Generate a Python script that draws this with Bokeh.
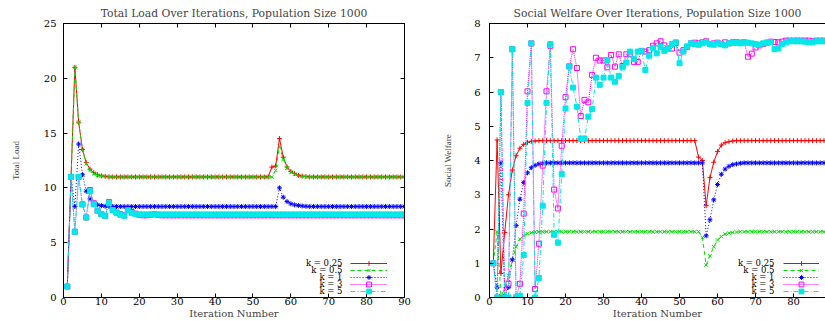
from bokeh.plotting import figure
from bokeh.models import Legend, LegendItem, Label, LinearAxis, FixedTicker, Range1d
from bokeh.layouts import row
from bokeh.embed import file_html
from bokeh.resources import INLINE

iterations = list(range(1, 91))
series_names = ["k = 0.25", "k = 0.5", "k = 1", "k = 3", "k = 5"]

load_x_ticks = [0, 10, 20, 30, 40, 50, 60, 70, 80, 90]
load_y_ticks = [0, 5, 10, 15, 20, 25]
sw_x_ticks = [0, 10, 20, 30, 40, 50, 60, 70, 80]
sw_y_ticks = [0, 1, 2, 3, 4, 5, 6, 7, 8]

load_k025 = [
    1.0, 11.0, 21.0, 16.0, 13.5, 12.3, 11.7, 11.4, 11.2, 11.1,
    11.05, 11.0, 11.0, 11.0, 11.0, 11.0, 11.0, 11.0, 11.0, 11.0,
    11.0, 11.0, 11.0, 11.0, 11.0, 11.0, 11.0, 11.0, 11.0, 11.0,
    11.0, 11.0, 11.0, 11.0, 11.0, 11.0, 11.0, 11.0, 11.0, 11.0,
    11.0, 11.0, 11.0, 11.0, 11.0, 11.0, 11.0, 11.0, 11.0, 11.0,
    11.0, 11.0, 11.0, 11.0, 11.9, 12.0, 14.5, 12.8, 11.9, 11.5,
    11.3, 11.15, 11.08, 11.04, 11.0, 11.0, 11.0, 11.0, 11.0, 11.0,
    11.0, 11.0, 11.0, 11.0, 11.0, 11.0, 11.0, 11.0, 11.0, 11.0,
    11.0, 11.0, 11.0, 11.0, 11.0, 11.0, 11.0, 11.0, 11.0, 11.0,
]
load_k05 = [
    1.0, 11.0, 21.0, 16.0, 13.5, 12.2, 11.65, 11.3, 11.15, 11.08,
    11.04, 11.02, 11.0, 11.0, 11.0, 11.0, 11.0, 11.0, 11.0, 11.0,
    11.0, 11.0, 11.0, 11.0, 11.0, 11.0, 11.0, 11.0, 11.0, 11.0,
    11.0, 11.0, 11.0, 11.0, 11.0, 11.0, 11.0, 11.0, 11.0, 11.0,
    11.0, 11.0, 11.0, 11.0, 11.0, 11.0, 11.0, 11.0, 11.0, 11.0,
    11.0, 11.0, 11.0, 11.0, 11.0, 11.6, 13.8, 12.6, 11.8, 11.45,
    11.25, 11.12, 11.06, 11.02, 11.0, 11.0, 11.0, 11.0, 11.0, 11.0,
    11.0, 11.0, 11.0, 11.0, 11.0, 11.0, 11.0, 11.0, 11.0, 11.0,
    11.0, 11.0, 11.0, 11.0, 11.0, 11.0, 11.0, 11.0, 11.0, 11.0,
]
load_k1 = [
    1.0, 11.0, 8.3, 14.0, 11.2, 9.7, 9.0, 8.6, 8.45, 8.38,
    8.33, 8.31, 8.3, 8.3, 8.3, 8.3, 8.3, 8.3, 8.3, 8.3,
    8.3, 8.3, 8.3, 8.3, 8.3, 8.3, 8.3, 8.3, 8.3, 8.3,
    8.3, 8.3, 8.3, 8.3, 8.3, 8.3, 8.3, 8.3, 8.3, 8.3,
    8.3, 8.3, 8.3, 8.3, 8.3, 8.3, 8.3, 8.3, 8.3, 8.3,
    8.3, 8.3, 8.3, 8.3, 8.3, 8.3, 10.0, 9.15, 8.75, 8.55,
    8.45, 8.4, 8.35, 8.32, 8.3, 8.3, 8.3, 8.3, 8.3, 8.3,
    8.3, 8.3, 8.3, 8.3, 8.3, 8.3, 8.3, 8.3, 8.3, 8.3,
    8.3, 8.3, 8.3, 8.3, 8.3, 8.3, 8.3, 8.3, 8.3, 8.3,
]
load_k3 = [
    1.0, 11.0, 6.0, 11.0, 8.5, 7.3, 9.8, 8.6, 7.9, 7.6,
    7.45, 8.7, 8.0, 7.75, 7.6, 7.5, 8.0, 7.8, 7.65, 7.55,
    7.5, 7.5, 7.55, 7.6, 7.55, 7.5, 7.5, 7.5, 7.5, 7.5,
    7.5, 7.5, 7.5, 7.5, 7.5, 7.5, 7.5, 7.5, 7.5, 7.5,
    7.5, 7.5, 7.5, 7.5, 7.5, 7.5, 7.5, 7.5, 7.5, 7.5,
    7.5, 7.5, 7.5, 7.5, 7.5, 7.5, 7.5, 7.5, 7.5, 7.5,
    7.5, 7.5, 7.5, 7.5, 7.5, 7.5, 7.5, 7.5, 7.5, 7.5,
    7.5, 7.5, 7.5, 7.5, 7.5, 7.5, 7.5, 7.5, 7.5, 7.5,
    7.5, 7.5, 7.5, 7.5, 7.5, 7.5, 7.5, 7.5, 7.5, 7.5,
]
load_k5 = [
    1.0, 11.0, 6.0, 11.0, 8.5, 7.3, 9.7, 8.5, 7.9, 7.6,
    7.45, 8.6, 7.97, 7.7, 7.55, 7.45, 7.95, 7.7, 7.62, 7.58,
    7.58, 7.58, 7.58, 7.58, 7.58, 7.58, 7.58, 7.58, 7.58, 7.58,
    7.58, 7.58, 7.58, 7.58, 7.58, 7.58, 7.58, 7.58, 7.58, 7.58,
    7.58, 7.58, 7.58, 7.58, 7.58, 7.58, 7.58, 7.58, 7.58, 7.58,
    7.58, 7.58, 7.58, 7.58, 7.58, 7.58, 7.58, 7.58, 7.58, 7.58,
    7.58, 7.58, 7.58, 7.58, 7.58, 7.58, 7.58, 7.58, 7.58, 7.58,
    7.58, 7.58, 7.58, 7.58, 7.58, 7.58, 7.58, 7.58, 7.58, 7.58,
    7.58, 7.58, 7.58, 7.58, 7.58, 7.58, 7.58, 7.58, 7.58, 7.58,
]

sw_k025 = [
    1.0, 4.6, 0.7, 1.9, 3.0, 3.72, 4.14, 4.36, 4.47, 4.53,
    4.56, 4.57, 4.58, 4.58, 4.58, 4.58, 4.58, 4.58, 4.58, 4.58,
    4.58, 4.58, 4.58, 4.58, 4.58, 4.58, 4.58, 4.58, 4.58, 4.58,
    4.58, 4.58, 4.58, 4.58, 4.58, 4.58, 4.58, 4.58, 4.58, 4.58,
    4.58, 4.58, 4.58, 4.58, 4.58, 4.58, 4.58, 4.58, 4.58, 4.58,
    4.58, 4.58, 4.58, 4.58, 4.1, 4.0, 2.68, 3.5, 3.95, 4.26,
    4.45, 4.52, 4.55, 4.57, 4.58, 4.58, 4.58, 4.58, 4.58, 4.58,
    4.58, 4.58, 4.58, 4.58, 4.58, 4.58, 4.58, 4.58, 4.58, 4.58,
    4.58, 4.58, 4.58, 4.58, 4.58, 4.58, 4.58, 4.58, 4.58, 4.58,
]
sw_k05 = [
    1.0, 1.92, 0.05, 0.25, 0.65, 1.1, 1.48, 1.7, 1.8, 1.86,
    1.89, 1.91, 1.92, 1.92, 1.92, 1.92, 1.92, 1.92, 1.92, 1.92,
    1.92, 1.92, 1.92, 1.92, 1.92, 1.92, 1.92, 1.92, 1.92, 1.92,
    1.92, 1.92, 1.92, 1.92, 1.92, 1.92, 1.92, 1.92, 1.92, 1.92,
    1.92, 1.92, 1.92, 1.92, 1.92, 1.92, 1.92, 1.92, 1.92, 1.92,
    1.92, 1.92, 1.92, 1.92, 1.92, 1.75, 0.95, 1.22, 1.48, 1.68,
    1.78, 1.85, 1.88, 1.9, 1.91, 1.92, 1.92, 1.92, 1.92, 1.92,
    1.92, 1.92, 1.92, 1.92, 1.92, 1.92, 1.92, 1.92, 1.92, 1.92,
    1.92, 1.92, 1.92, 1.92, 1.92, 1.92, 1.92, 1.92, 1.92, 1.92,
]
sw_k1 = [
    1.0, 0.3, 3.93, 0.05, 0.3, 1.1, 2.1, 2.87, 3.36, 3.64,
    3.79, 3.86, 3.9, 3.92, 3.93, 3.93, 3.93, 3.93, 3.93, 3.93,
    3.93, 3.93, 3.93, 3.93, 3.93, 3.93, 3.93, 3.93, 3.93, 3.93,
    3.93, 3.93, 3.93, 3.93, 3.93, 3.93, 3.93, 3.93, 3.93, 3.93,
    3.93, 3.93, 3.93, 3.93, 3.93, 3.93, 3.93, 3.93, 3.93, 3.93,
    3.93, 3.93, 3.93, 3.93, 3.93, 3.93, 1.8, 2.27, 2.85, 3.3,
    3.6, 3.75, 3.83, 3.88, 3.9, 3.92, 3.93, 3.93, 3.93, 3.93,
    3.93, 3.93, 3.93, 3.93, 3.93, 3.93, 3.93, 3.93, 3.93, 3.93,
    3.93, 3.93, 3.93, 3.93, 3.93, 3.93, 3.93, 3.93, 3.93, 3.93,
]
sw_k3 = [
    1.0, 0.0, 6.0, 0.0, 0.4, 7.25, 0.0, 0.4, 2.45, 6.02,
    7.42, 0.25, 1.57, 3.85, 6.02, 7.35, 3.15, 2.6, 4.43, 5.85,
    6.75, 7.25, 6.7, 5.3, 5.77, 5.7, 6.5, 7.0, 6.92, 6.92,
    6.72, 7.08, 6.74, 7.1, 6.76, 7.1, 7.1, 6.88, 6.88, 7.2,
    7.18, 7.22, 7.35, 7.42, 7.48, 7.36, 7.27, 7.27, 7.43, 7.15,
    7.22, 7.32, 7.42, 7.44, 7.42, 7.45, 7.48, 7.4, 7.42, 7.44,
    7.4, 7.45, 7.42, 7.45, 7.45, 7.44, 7.45, 7.03, 7.12, 7.3,
    7.36, 7.4, 7.44, 7.47, 7.46, 7.45, 7.47, 7.5, 7.5, 7.5,
    7.5, 7.5, 7.5, 7.5, 7.48, 7.5, 7.5, 7.5, 7.5, 7.5,
]
sw_k5 = [
    1.0, 0.0, 6.0, 0.0, 0.0, 7.25, 0.0, 0.05, 1.24, 5.68,
    7.42, 0.0, 0.57, 2.68, 5.68, 7.4, 1.83, 1.6, 3.6, 5.52,
    6.75, 6.13, 5.57, 4.64, 4.64, 5.28, 5.5, 6.42, 6.21, 6.42,
    6.93, 6.42, 6.3, 6.47, 6.72, 6.86, 7.18, 6.96, 7.18, 7.2,
    6.64, 7.06, 7.28, 7.13, 7.32, 7.2, 7.28, 7.4, 7.45, 6.84,
    7.18, 7.33, 7.42, 7.4, 7.38, 7.42, 7.45, 7.4, 7.38, 7.42,
    7.4, 7.36, 7.42, 7.44, 7.44, 7.42, 7.45, 7.44, 7.42, 7.4,
    7.38, 7.42, 7.44, 7.46, 7.25, 7.27, 7.4, 7.45, 7.48, 7.48,
    7.48, 7.48, 7.47, 7.45, 7.45, 7.48, 7.48, 7.48, 7.48, 7.48,
]

STYLES = [
    dict(color="#ff0000", dash="solid", marker="cross", fill=True),
    dict(color="#00e000", dash="4 3", marker="x", fill=True),
    dict(color="#0000ff", dash="1 2", marker="asterisk", fill=True),
    dict(color="#ff00ff", dash="1 1", marker="square", fill=False),
    dict(color="#00e8e8", dash="5 2 1 2", marker="square", fill=True),
]

SERIF = "DejaVu Serif"
HEIGHT = 321


def style_axis(ax, ticks, show_labels=True):
    ax.ticker = FixedTicker(ticks=ticks)
    ax.axis_line_color = "black"
    ax.major_tick_line_color = "black"
    ax.major_tick_in = 4
    ax.major_tick_out = 0
    ax.minor_tick_in = 0
    ax.minor_tick_out = 0
    ax.major_label_text_font = SERIF
    if show_labels:
        ax.major_label_text_color = "black"
        ax.major_label_text_font_size = "10px"
    else:
        # mirror axis: tick marks only, no tick labels drawn
        ax.major_label_text_color = None
        ax.major_label_text_alpha = 0
        ax.major_label_text_font_size = "0px"
        ax.major_label_standoff = 0


def make_fig(title, ylabel, series, xend, yend, xticks, yticks, width,
             left_border, right_border, mirror_right, ylab_standoff,
             ytick_standoff, text_right, glyph_left, glyph_w):
    p = figure(width=width, height=HEIGHT, output_backend="svg",
               toolbar_location=None,
               x_range=Range1d(0, xend), y_range=Range1d(0, yend),
               min_border_left=left_border, min_border_right=right_border,
               min_border_top=23, min_border_bottom=0)
    p.title.text = title
    p.title.text_font = SERIF
    p.title.text_font_style = "normal"
    p.title.text_font_size = "10.8px"
    p.title.align = "center"
    p.title.standoff = 8
    p.xgrid.visible = False
    p.ygrid.visible = False
    p.background_fill_color = "white"
    p.border_fill_color = "white"
    p.outline_line_color = "black" if mirror_right else None

    style_axis(p.xaxis[0], xticks)
    style_axis(p.yaxis[0], yticks)
    p.xaxis.major_label_standoff = 0
    p.yaxis.major_label_standoff = ytick_standoff
    p.xaxis.axis_label = "Iteration Number"
    p.xaxis.axis_label_standoff = 0
    p.xaxis.axis_label_text_font = SERIF
    p.xaxis.axis_label_text_font_style = "normal"
    p.xaxis.axis_label_text_font_size = "10px"
    p.yaxis.axis_label = ylabel
    p.yaxis.axis_label_standoff = ylab_standoff
    p.yaxis.axis_label_text_font = "Liberation Serif"
    p.yaxis.axis_label_text_font_style = "normal"
    p.yaxis.axis_label_text_font_size = "9px"

    top = LinearAxis()
    style_axis(top, xticks, show_labels=False)
    p.add_layout(top, "above")
    if mirror_right:
        right = LinearAxis()
        style_axis(right, yticks, show_labels=False)
        p.add_layout(right, "right")

    row_y = [34.5, 27.4, 20.3, 13.2, 6.1]
    for name, ys, st, ry in zip(series_names, series, STYLES, row_y):
        lr = p.line(iterations, ys, line_color=st["color"], line_width=1,
                    line_dash=st["dash"])
        sr = p.scatter(iterations, ys, marker=st["marker"], size=5,
                       line_color=st["color"],
                       fill_color=st["color"] if st["fill"] else None,
                       line_width=1)
        # key sample: one small legend per row, so rows stay 7px apart
        leg = Legend(items=[LegendItem(label=" ", renderers=[lr, sr])],
                     location=(glyph_left, ry - 6),
                     glyph_width=glyph_w, glyph_height=12, label_height=12,
                     label_width=0, label_standoff=0, spacing=0,
                     padding=0, margin=0, border_line_color=None,
                     background_fill_alpha=0, label_text_alpha=0,
                     label_text_font_size="5px")
        p.add_layout(leg)
        p.add_layout(Label(x=text_right, y=ry, x_units="screen",
                           y_units="screen", text=name, text_align="right",
                           text_baseline="middle", text_font=SERIF,
                           text_font_size="8.5px", text_color="black"))
    return p


p1 = make_fig("Total Load Over Iterations, Population Size 1000", "Total Load",
              [load_k025, load_k05, load_k1, load_k3, load_k5],
              90, 25, load_x_ticks, load_y_ticks, 440, 63, 36, True, 20, 7,
              279, 287, 37)
p2 = make_fig("Social Welfare Over Iterations, Population Size 1000",
              "Social Welfare",
              [sw_k025, sw_k05, sw_k1, sw_k3, sw_k5],
              88.4, 8, sw_x_ticks, sw_y_ticks, 385, 45, 0, False, 18, 9,
              285, 294, 36)

layout = row(p1, p2)
open("out.html", "w").write(file_html(layout, INLINE))
